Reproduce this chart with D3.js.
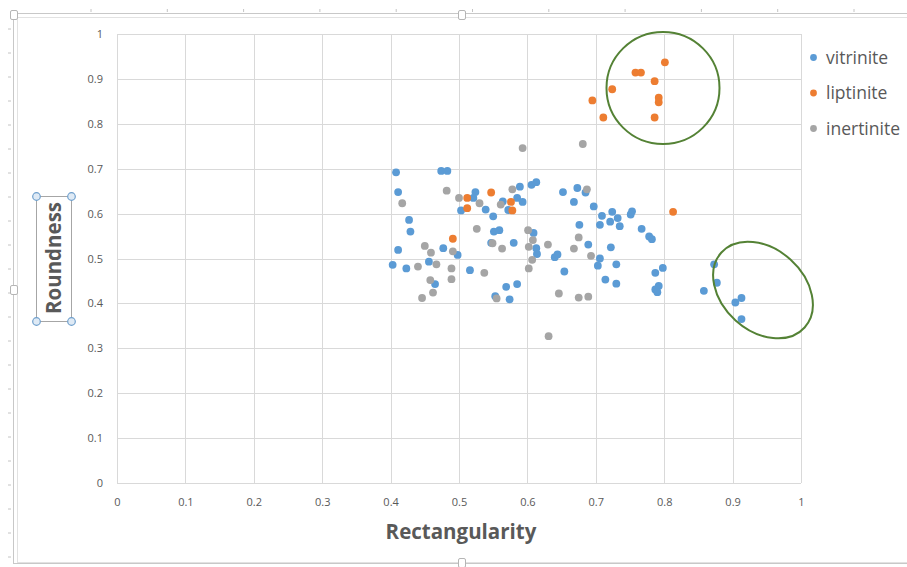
<!DOCTYPE html>
<html>
<head>
<meta charset="utf-8">
<script src="https://cdn.jsdelivr.net/npm/d3@7"></script>
<style>
  body { margin: 0; background: #fff; }
  text { font-family: "Open Sans", "Noto Sans", sans-serif; }
</style>
</head>
<body>
<svg id="chart" width="907" height="567"></svg>
<script>
// ─── Data ─────────────────────────────────────────
const seriesNames = ['vitrinite', 'liptinite', 'inertinite'];
const seriesColors = ['#5b9bd5', '#ed7d31', '#a5a5a5'];

const vitrinite = [
  [0.408,0.692],[0.474,0.695],[0.483,0.695],[0.411,0.648],[0.524,0.648],[0.521,0.635],
  [0.589,0.660],[0.606,0.664],[0.613,0.670],[0.503,0.607],[0.539,0.609],[0.550,0.594],
  [0.564,0.627],[0.572,0.608],[0.585,0.635],[0.593,0.626],[0.427,0.586],[0.429,0.560],
  [0.551,0.560],[0.559,0.563],[0.609,0.557],[0.411,0.519],[0.477,0.523],[0.498,0.508],
  [0.547,0.535],[0.580,0.535],[0.613,0.523],[0.614,0.510],[0.403,0.486],[0.423,0.478],
  [0.456,0.493],[0.516,0.474],[0.465,0.443],[0.569,0.437],[0.585,0.443],[0.553,0.416],
  [0.574,0.409],[0.652,0.648],[0.673,0.657],[0.685,0.647],[0.668,0.626],[0.697,0.616],
  [0.724,0.604],[0.709,0.595],[0.721,0.582],[0.732,0.590],[0.735,0.572],[0.706,0.575],
  [0.753,0.605],[0.751,0.598],[0.676,0.575],[0.767,0.566],[0.778,0.549],[0.782,0.543],
  [0.689,0.531],[0.722,0.525],[0.640,0.503],[0.644,0.509],[0.706,0.500],[0.703,0.484],
  [0.730,0.487],[0.654,0.471],[0.714,0.453],[0.730,0.444],[0.798,0.479],[0.787,0.468],
  [0.792,0.439],[0.787,0.431],[0.790,0.425],[0.873,0.487],[0.877,0.446],[0.858,0.428],
  [0.904,0.402],[0.913,0.412],[0.913,0.365]
];

const liptinite = [
  [0.512,0.635],[0.547,0.647],[0.512,0.612],[0.576,0.626],[0.578,0.607],[0.491,0.544],
  [0.813,0.604],[0.801,0.937],[0.758,0.914],[0.766,0.914],[0.786,0.895],[0.724,0.877],
  [0.695,0.852],[0.792,0.858],[0.792,0.848],[0.711,0.814],[0.786,0.814]
];

const inertinite = [
  [0.593,0.746],[0.417,0.623],[0.482,0.651],[0.500,0.635],[0.578,0.654],[0.530,0.623],
  [0.561,0.620],[0.526,0.566],[0.601,0.563],[0.450,0.528],[0.459,0.513],[0.491,0.516],
  [0.549,0.534],[0.563,0.522],[0.602,0.526],[0.608,0.541],[0.440,0.482],[0.467,0.487],
  [0.489,0.478],[0.537,0.468],[0.602,0.478],[0.607,0.497],[0.458,0.452],[0.489,0.454],
  [0.462,0.424],[0.446,0.412],[0.555,0.411],[0.681,0.755],[0.687,0.654],[0.675,0.547],
  [0.668,0.522],[0.630,0.531],[0.693,0.506],[0.646,0.422],[0.675,0.413],[0.689,0.415],
  [0.631,0.327]
];

const xTicks = [0, 0.1, 0.2, 0.3, 0.4, 0.5, 0.6, 0.7, 0.8, 0.9, 1];
const yTicks = [0, 0.1, 0.2, 0.3, 0.4, 0.5, 0.6, 0.7, 0.8, 0.9, 1];

// ─── Setup ────────────────────────────────────────
const svg = d3.select('#chart');
const W = 907, H = 567;
const plot = { left: 117, right: 801, top: 34, bottom: 483 };
const textColor = '#595959';
const gridColor = '#d9d9d9';

const x = d3.scaleLinear().domain([0, 1]).range([plot.left, plot.right]);
const y = d3.scaleLinear().domain([0, 1]).range([plot.bottom, plot.top]);

svg.append('rect').attr('width', W).attr('height', H).attr('fill', '#fff');

// ─── Chart frame (selected-chart look) ────────────
const frame = svg.append('g').attr('class', 'frame');
// ruler ticks
d3.range(91, 907, 76.3).forEach(function (tx) {
  frame.append('line').attr('x1', tx).attr('x2', tx).attr('y1', 9).attr('y2', 12)
    .attr('stroke', '#c4c4c4');
});
d3.range(29, 560, 24).forEach(function (ty) {
  frame.append('line').attr('x1', 8).attr('x2', 11).attr('y1', ty).attr('y2', ty)
    .attr('stroke', '#c4c4c4');
});
frame.append('rect').attr('x', 13.5).attr('y', 13.5).attr('width', 900).attr('height', 550)
  .attr('fill', 'none').attr('stroke', '#c8c8c8');
frame.append('rect').attr('x', 17.5).attr('y', 17.5).attr('width', 900).attr('height', 545)
  .attr('fill', 'none').attr('stroke', '#e2e2e2');
[[14, 15], [462, 15], [14, 290], [462, 563]].forEach(function (p) {
  frame.append('rect').attr('x', p[0] - 3.5).attr('y', p[1] - 4.5)
    .attr('width', 7).attr('height', 9).attr('rx', 1.5)
    .attr('fill', '#fff').attr('stroke', '#b5b5b5');
});

// ─── Gridlines ────────────────────────────────────
const grid = svg.append('g').attr('class', 'grid');
xTicks.forEach(function (v) {
  grid.append('line').attr('x1', Math.round(x(v)) + 0.5).attr('x2', Math.round(x(v)) + 0.5)
    .attr('y1', plot.top).attr('y2', plot.bottom).attr('stroke', gridColor);
});
yTicks.forEach(function (v) {
  grid.append('line').attr('x1', plot.left).attr('x2', plot.right)
    .attr('y1', Math.round(y(v)) + 0.5).attr('y2', Math.round(y(v)) + 0.5)
    .attr('stroke', gridColor);
});

// ─── Axes ─────────────────────────────────────────
const xAxis = svg.append('g')
  .attr('transform', `translate(0, ${plot.bottom})`)
  .call(d3.axisBottom(x).tickValues(xTicks).tickSize(0).tickPadding(15)
    .tickFormat(d3.format('~g')));
const yAxis = svg.append('g')
  .attr('transform', `translate(${plot.left}, 0)`)
  .call(d3.axisLeft(y).tickValues(yTicks).tickSize(0).tickPadding(14)
    .tickFormat(d3.format('~g')));
[xAxis, yAxis].forEach(function (g) {
  g.select('.domain').remove();
  g.selectAll('.tick text')
    .attr('fill', textColor)
    .style('font-family', '"Open Sans", sans-serif')
    .style('font-size', '11px');
});

svg.append('text')
  .attr('x', 461).attr('y', 532).attr('dy', '0.35em')
  .attr('text-anchor', 'middle')
  .attr('fill', textColor)
  .style('font-size', '20.5px').style('font-weight', 'bold')
  .text('Rectangularity');

// y title with selection box
const yt = svg.append('g').attr('class', 'y-title');
yt.append('rect').attr('x', 36.5).attr('y', 196.5).attr('width', 35).attr('height', 125)
  .attr('fill', 'none').attr('stroke', '#a6a6a6');
yt.append('text')
  .attr('transform', 'translate(54, 258) rotate(-90)')
  .attr('dy', '0.35em')
  .attr('text-anchor', 'middle')
  .attr('fill', textColor)
  .style('font-size', '20.5px').style('font-weight', 'bold')
  .text('Roundness');
[[36.5, 196.5], [71.5, 196.5], [36.5, 321.5], [71.5, 321.5]].forEach(function (p) {
  yt.append('circle').attr('cx', p[0]).attr('cy', p[1]).attr('r', 3.8)
    .attr('fill', '#dfeaf5').attr('stroke', '#6f9fcc').attr('stroke-width', 1.2);
});

// ─── Points ───────────────────────────────────────
[vitrinite, liptinite, inertinite].forEach(function (data, i) {
  svg.append('g').attr('class', 'series-' + seriesNames[i])
    .selectAll('circle')
    .data(data)
    .join('circle')
    .attr('cx', d => x(d[0]))
    .attr('cy', d => y(d[1]))
    .attr('r', 3.9)
    .attr('fill', seriesColors[i]);
});

// ─── Annotation ellipses ──────────────────────────
const ann = svg.append('g').attr('class', 'annotations')
  .attr('fill', 'none').attr('stroke', '#548235').attr('stroke-width', 2);
ann.append('ellipse').attr('cx', 663).attr('cy', 88).attr('rx', 56.5).attr('ry', 56);
ann.append('ellipse').attr('cx', 0).attr('cy', 0).attr('rx', 56).attr('ry', 41)
  .attr('transform', 'translate(763, 290) rotate(42)');

// ─── Legend ───────────────────────────────────────
const legend = svg.append('g').attr('class', 'legend');
seriesNames.forEach(function (name, i) {
  const ly = 57.5 + i * 35.5;
  legend.append('circle').attr('cx', 813.5).attr('cy', ly).attr('r', 3.4)
    .attr('fill', seriesColors[i]);
  legend.append('text').attr('x', 826).attr('y', ly).attr('dy', '0.35em')
    .attr('fill', textColor).style('font-size', '17.5px')
    .text(name);
});
</script>
</body>
</html>
